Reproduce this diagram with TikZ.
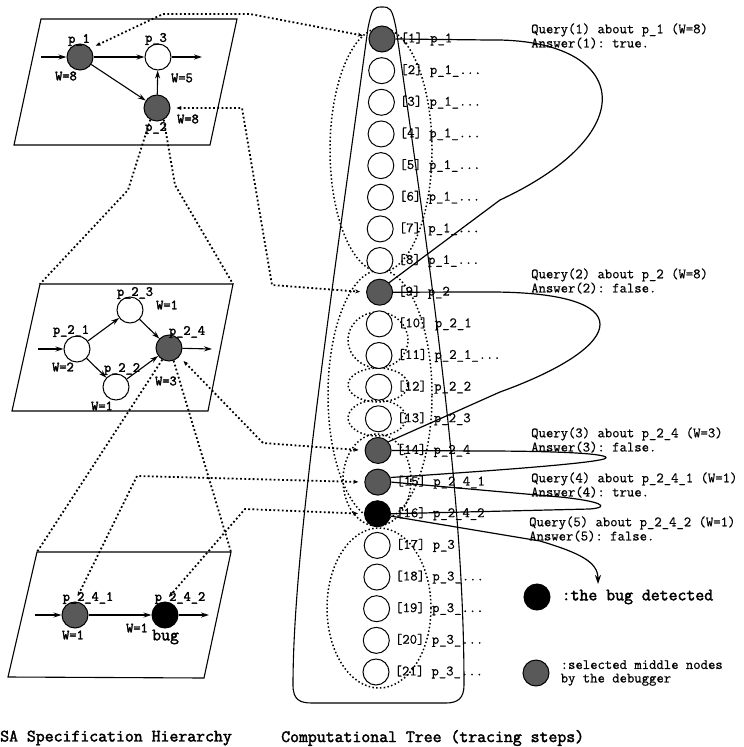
\documentclass[tikz,border=0pt]{standalone}
\usepackage{fontspec}
\setmonofont{Latin Modern Mono}[FakeBold=0.6, BoldFont={Latin Modern Mono}, BoldFeatures={FakeBold=2.2}]
\usepackage{tikz}
\usetikzlibrary{arrows.meta, positioning, calc}
\newcommand{\etc}{\_...}

\begin{document}
\begin{tikzpicture}[x=1pt, y=-1pt, >=Stealth,
    font=\ttfamily\fontsize{14.3}{12}\selectfont,
    every node/.style={inner sep=0pt},
    opennode/.style={circle, draw, line width=1pt, minimum size=26pt, fill=white},
    midnode/.style={opennode, fill=black!65},
    bugnode/.style={opennode, fill=black},
    flow/.style={line width=1.1pt, -{Stealth[length=8pt, width=5pt]}},
    panel/.style={line width=1.1pt},
    dots/.style={line width=1.8pt, dash pattern=on 1.8pt off 2.4pt},
    trace/.style={dots, {Stealth[length=5pt, width=4pt]}-{Stealth[length=5pt, width=4pt]}, shorten <=6pt, shorten >=6pt},
    cluster/.style={line width=1.5pt, dash pattern=on 1.5pt off 2.3pt},
    query/.style={line width=1.2pt},
    glabel/.style={font=\ttfamily\bfseries\fontsize{14}{14}\selectfont},
    title/.style={font=\ttfamily\bfseries\fontsize{17.3}{17.3}\selectfont, anchor=west}]
    \useasboundingbox (0,0) rectangle (744,747);

    % panels of the specification hierarchy
    \coordinate (ttl) at (41,19);  \coordinate (ttr) at (237,19);
    \coordinate (tbr) at (210,145); \coordinate (tbl) at (14,145);
    \coordinate (mtl) at (40,284);  \coordinate (mtr) at (233,284);
    \coordinate (mbr) at (208,411); \coordinate (mbl) at (12,411);
    \coordinate (btl) at (37,552);  \coordinate (btr) at (231,552);
    \coordinate (bbr) at (204,678); \coordinate (bbl) at (8,677);
    \draw[panel] (ttl) -- (ttr) -- (tbr) -- (tbl) -- cycle;
    \draw[panel] (mtl) -- (mtr) -- (mbr) -- (mbl) -- cycle;
    \draw[panel] (btl) -- (btr) -- (bbr) -- (bbl) -- cycle;

    % top level
    \node[midnode] (p1) at (80,57) {};
    \node[opennode] (p3) at (158,57) {};
    \node[midnode] (p2) at (157,108) {};
    \coordinate (p1in) at (41,57);
    \coordinate (p3out) at (202,57);
    \draw[flow] (p1in) -- (p1);
    \draw[flow] (p1) -- (p3);
    \draw[flow] (p1) -- (p2);
    \draw[flow] (p2) -- (p3);
    \draw[flow] (p3) -- (p3out);
    \node[glabel] at (79,40) {p\_1};
    \node[glabel] at (66,76) {W=8};
    \node[glabel] at (156,39) {p\_3};
    \node[glabel] at (182,78) {W=5};
    \node[glabel] at (156,128) {p\_2};
    \node[glabel] at (188,119) {W=8};

    % level of p_2
    \node[opennode] (p21) at (77,349) {};
    \node[opennode] (p23) at (130,310) {};
    \node[opennode] (p22) at (116,387) {};
    \node[midnode] (p24) at (169,348) {};
    \coordinate (p21in) at (38,349);
    \coordinate (p24out) at (212,349);
    \draw[flow] (p21in) -- (p21);
    \draw[flow] (p21) -- (p23);
    \draw[flow] (p21) -- (p22);
    \draw[flow] (p23) -- (p24);
    \draw[flow] (p22) -- (p24);
    \draw[flow] (p24) -- (p24out);
    \node[glabel] at (71,331) {p\_2\_1};
    \node[glabel] at (63,367) {W=2};
    \node[glabel] at (135,293) {p\_2\_3};
    \node[glabel] at (167,305) {W=1};
    \node[glabel] at (122,369) {p\_2\_2};
    \node[glabel] at (102,406) {W=1};
    \node[glabel] at (187,332) {p\_2\_4};
    \node[glabel] at (166,381) {W=3};

    % level of p_2_4
    \node[midnode] (p241) at (75,615) {};
    \node[bugnode] (p242) at (165,615) {};
    \coordinate (p241in) at (35,615);
    \coordinate (p242out) at (209,615);
    \draw[flow] (p241in) -- (p241);
    \draw[flow] (p241) -- (p242);
    \draw[flow] (p242) -- (p242out);
    \node[glabel] at (88,598) {p\_2\_4\_1};
    \node[glabel] at (73,635) {W=1};
    \node[glabel] at (180,598) {p\_2\_4\_2};
    \node[glabel] at (137,628) {W=1};
    \node[title] at (152,637) {bug};

    % zoom funnels
    \draw[dots] (p2.240) -- (128,190) -- (mtl);
    \draw[dots] (p2.-60) -- (175,185) -- (mtr);
    \draw[dots] (p24.240) -- (btl);
    \draw[dots] (p24.-70) -- (btr);

    % computational tree
    \draw[panel] (368,28) .. controls (331,300) and (293,550) .. (293,685)
        .. controls (293,700) and (300,703) .. (312,703) -- (446,703)
        .. controls (458,703) and (464,698) .. (464,685)
        .. controls (464,520) and (440,330) .. (396,28)
        .. controls (392,8) and (390,7) .. (382,7)
        .. controls (374,7) and (372,8) .. (368,28) -- cycle;
    \draw[cluster] (381,150) ellipse [x radius=51pt, y radius=122pt];
    \draw[cluster] (380,395) ellipse [x radius=52pt, y radius=125pt];
    \draw[cluster] (378,340) ellipse [x radius=30pt, y radius=28pt];
    \draw[cluster] (378,385) ellipse [x radius=30pt, y radius=17pt];
    \draw[cluster] (377,418) ellipse [x radius=29pt, y radius=18pt];
    \draw[cluster] (377,480) ellipse [x radius=34pt, y radius=46pt];
    \draw[cluster] (379,608) ellipse [x radius=52pt, y radius=80pt];
    \foreach \i/\kind/\name in {1/midnode/p\_1, 2/opennode/p\_1\etc, 3/opennode/p\_1\etc,
        4/opennode/p\_1\etc, 5/opennode/p\_1\etc, 6/opennode/p\_1\etc, 7/opennode/p\_1\etc,
        8/opennode/p\_1\etc, 9/midnode/p\_2, 10/opennode/p\_2\_1, 11/opennode/p\_2\_1\etc,
        12/opennode/p\_2\_2, 13/opennode/p\_2\_3, 14/midnode/p\_2\_4, 15/midnode/p\_2\_4\_1,
        16/bugnode/p\_2\_4\_2, 17/opennode/p\_3, 18/opennode/p\_3\etc, 19/opennode/p\_3\etc,
        20/opennode/p\_3\etc, 21/opennode/p\_3\etc} {
        \node[\kind] (t\i) at ({382-0.3*(\i-1)}, {39+31.65*(\i-1)}) {};
        \node[right=5pt of t\i] (s\i) {[\i] \name};
    }

    % queries of the debugger
    \draw[query] (t1.east) -- (490,40) .. controls (625,38) and (650,130) .. (500,200) -- (t9.45);
    \draw[query] (t9.east) -- (490,292) .. controls (640,292) and (630,345) .. (500,392) -- (t14.40);
    \draw[query] (t14.east) -- (480,451) .. controls (580,451) and (615,455) .. (604,459)
        .. controls (590,463) and (520,469) .. (t15.20);
    \draw[query] (t15.east) -- (560,497) .. controls (600,501) and (612,507) .. (590,509) -- (t16.east);
    \draw[query, -{Stealth[length=9pt, width=6pt]}] (t16.-10) -- (540,541)
        .. controls (580,553) and (598,562) .. (598,584);
    \node[anchor=west, align=left] (q1) at (531,36) {Query(1) about p\_1 (W=8)\\Answer(1): true.};
    \node[anchor=west, align=left] (q2) at (531,281) {Query(2) about p\_2 (W=8)\\Answer(2): false.};
    \node[anchor=west, align=left] (q3) at (531,440) {Query(3) about p\_2\_4 (W=3)\\Answer(3): false.};
    \node[anchor=west, align=left] (q4) at (531,485) {Query(4) about p\_2\_4\_1 (W=1)\\Answer(4): true.};
    \node[anchor=west, align=left] (q5) at (529,529) {Query(5) about p\_2\_4\_2 (W=1)\\Answer(5): false.};

    % trace links between the two views
    \draw[trace] (p1.40) -- (163,14) -- (250,14) -- (t1.170);
    \draw[trace] (p2.east) -- (242,108) -- (272,285) -- (t9.west);
    \draw[trace] (p24.-40) -- (263,443) -- (t14.west);
    \draw[trace] (t15.west) -- (137,476) -- (p241.north);
    \draw[trace] (t16.west) -- (245,509) -- (p242.north);

    % legend
    \node[bugnode] (legbug) at (537,597) {};
    \node[title, right=11pt of legbug] (legbugtext) {:the bug detected};
    \node[midnode] (legmid) at (536,673) {};
    \node[anchor=west, align=left, right=11pt of legmid, font=\ttfamily\fontsize{14.3}{13.5}\selectfont] (legmidtext) {:selected middle nodes\\ by the debugger};

    \node[title] (lefttitle) at (0,738) {SA Specification Hierarchy};
    \node[title] (righttitle) at (281,738) {Computational Tree (tracing steps)};
\end{tikzpicture}
\end{document}
